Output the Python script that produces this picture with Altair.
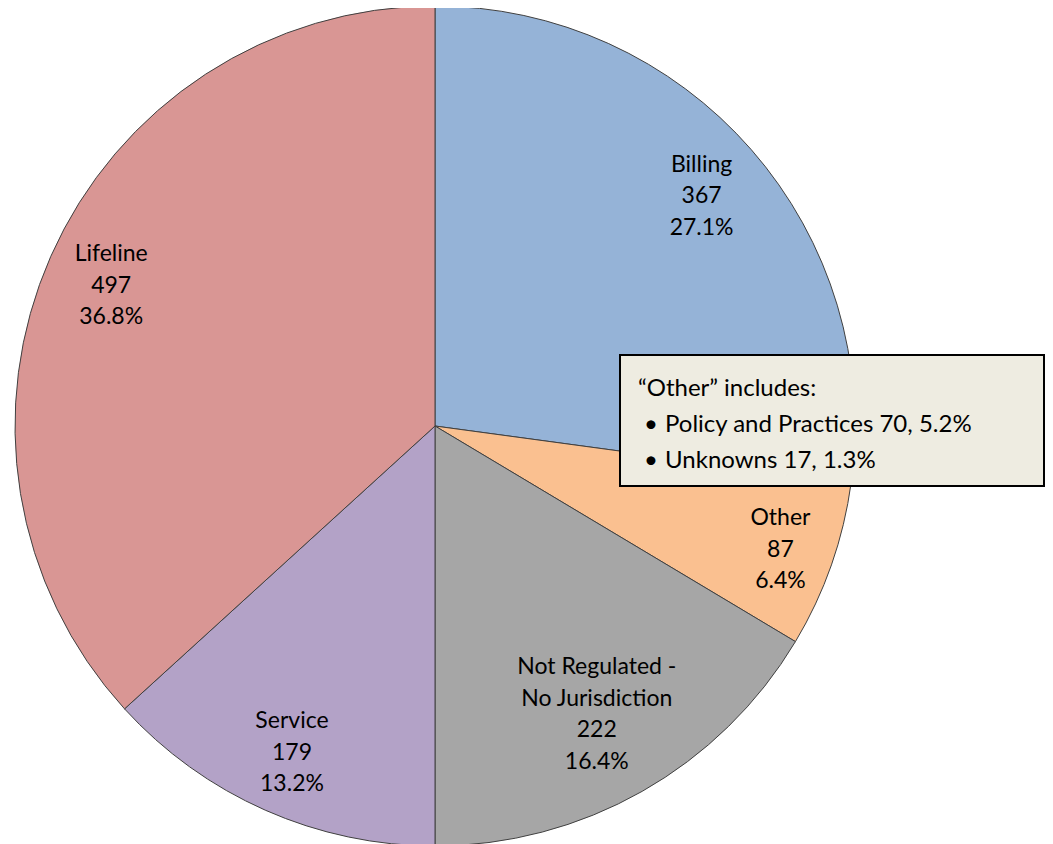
import altair as alt
import pandas as pd

categories = ["Billing", "Other", "Not Regulated - No Jurisdiction", "Service", "Lifeline"]
counts = [367, 87, 222, 179, 497]
percents = ["27.1%", "6.4%", "16.4%", "13.2%", "36.8%"]
label_names = ["Billing", "Other", "Not Regulated -\nNo Jurisdiction", "Service", "Lifeline"]
colors = ["#95B3D7", "#FAC090", "#A6A6A6", "#B3A2C7", "#D99694"]

callout_lines = ["\u201cOther\u201d includes:", "Policy and Practices 70, 5.2%", "Unknowns 17, 1.3%"]

labels_text = [f"{n}\n{c}\n{p}" for n, c, p in zip(label_names, counts, percents)]
df = pd.DataFrame({
    "category": categories,
    "count": counts,
    "order": list(range(len(categories))),
    "label": labels_text,
    "nlines": [t.count("\n") + 1 for t in labels_text],
})

W, H = 1037, 836
CX, CY, R = 427, 418, 420
FONT = "Lato"
FS = 23
LH = 31.5

theta = alt.Theta("count:Q", stack=True, scale=alt.Scale(range=[0, 6.283185307179586]))
order = alt.Order("order:O", sort="ascending")

base = alt.Chart(df)

pie = base.mark_arc(stroke="#404040", strokeWidth=1).encode(
    theta=theta,
    order=order,
    color=alt.Color("category:N", scale=alt.Scale(domain=categories, range=colors), legend=None),
    radius=alt.value(R),
    x=alt.value(CX),
    y=alt.value(CY),
)

def label_layer(test, n, r):
    return base.mark_text(
        font=FONT, fontSize=FS, lineBreak="\n", lineHeight=LH, color="#000000",
        align="center", baseline="middle", dy=-LH * (n - 1) / 2 + 3,
    ).encode(
        theta=theta,
        order=order,
        text="label:N",
        radius=alt.value(r),
        x=alt.value(CX),
        y=alt.value(CY),
        opacity=alt.condition(test, alt.value(1), alt.value(0)),
    )

labels3 = label_layer("datum.nlines == 3 && datum.category != 'Other'", 3, 354)
labels_other = label_layer("datum.category == 'Other'", 3, 366)
labels4 = label_layer("datum.nlines == 4", 4, 328)

box_df = pd.DataFrame({"k": [0]})
box = alt.Chart(box_df).mark_rect(fill="#EEECE1", stroke="#000000", strokeWidth=2).encode(
    x=alt.value(612), x2=alt.value(1036), y=alt.value(347), y2=alt.value(478)
)

call_df = pd.DataFrame({"t": callout_lines, "i": [0, 1, 2]})
ysc = alt.Scale(domain=[0, 2], range=[381, 453])
call_title = alt.Chart(call_df.iloc[[0]]).mark_text(
    font=FONT, fontSize=24, align="left", baseline="middle", color="#000000"
).encode(text="t:N", x=alt.value(630), y=alt.Y("i:Q", scale=ysc, axis=None))

bullet_df = call_df.iloc[1:]
bullets = alt.Chart(bullet_df).mark_text(
    font=FONT, fontSize=24, align="left", baseline="middle", color="#000000"
).encode(
    text=alt.value("\u2022"),
    x=alt.value(636),
    y=alt.Y("i:Q", scale=ysc, axis=None),
)
bullet_text = alt.Chart(bullet_df).mark_text(
    font=FONT, fontSize=24, align="left", baseline="middle", color="#000000"
).encode(
    text="t:N",
    x=alt.value(657),
    y=alt.Y("i:Q", scale=ysc, axis=None),
)

chart = alt.layer(pie, labels3, labels_other, labels4, box, call_title, bullets, bullet_text).properties(
    width=W, height=H, padding=0, autosize=alt.AutoSizeParams(type="none")
).configure_view(stroke=None)

chart.save("out.html", embed_options={"renderer": "svg", "actions": False})
